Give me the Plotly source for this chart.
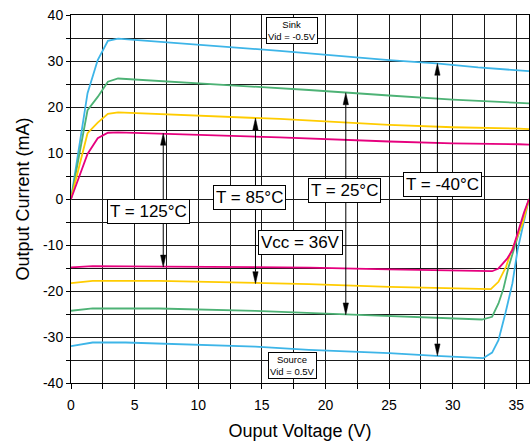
import plotly.graph_objects as go

# ---- Sink curves (Vid = -0.5 V): output voltage (V) vs output current (mA)
sink_m40_v = [0, 0.7, 1.3, 2.1, 2.9, 3.7, 10, 16.4, 25, 28.7, 32, 35.2, 36]
sink_m40_i = [0, 12, 23.0, 30.2, 34.4, 34.85, 33.6, 32.2, 30.2, 29.5, 28.6, 27.9, 27.8]
sink_25_v = [0, 1.3, 2.1, 2.9, 3.7, 10, 18.7, 25, 30, 35.2, 36]
sink_25_i = [0, 19.3, 22.2, 25.5, 26.2, 25.2, 23.7, 22.5, 21.6, 20.9, 20.8]
sink_85_v = [0, 1.3, 2.1, 2.9, 3.7, 10, 16.4, 25, 30, 35.2, 36]
sink_85_i = [0, 14.3, 16.6, 18.5, 18.85, 18.2, 17.4, 16.1, 15.6, 15.3, 15.2]
sink_125_v = [0, 1.3, 2.1, 2.9, 3.7, 7.2, 16.4, 25, 30, 35.2, 36]
sink_125_i = [0, 9.8, 13.2, 14.4, 14.5, 14.2, 13.4, 12.5, 12.1, 11.9, 11.8]

# ---- Source curves (Vid = 0.5 V)
src_m40_v = [0, 1.7, 4.3, 9.5, 14.5, 18.7, 25, 28.7, 32.4, 33.1, 33.6, 34.15, 34.7, 35.1, 36]
src_m40_i = [-32, -31.2, -31.2, -31.7, -32.1, -32.8, -33.5, -34.1, -34.6, -33.4, -30.7, -24.8, -18.3, -11.1, 0]
src_25_v = [0, 1.7, 6.9, 14.5, 21.6, 25, 32.3, 33.1, 33.6, 34.0, 34.4, 34.8, 36]
src_25_i = [-24.3, -23.8, -23.8, -24.3, -25.1, -25.4, -26.2, -25.6, -22.7, -19.4, -14.7, -11.1, 0]
src_85_v = [0, 1.7, 6.9, 14.5, 18.7, 25, 33.0, 33.6, 34.2, 34.55, 35.5, 36]
src_85_i = [-18.3, -17.8, -17.8, -18.3, -18.5, -19.1, -19.6, -18.0, -14.7, -11.8, -5.3, 0]
src_125_v = [0, 1.7, 7.2, 18.7, 25, 33.1, 33.6, 34.3, 34.7, 35.6, 36]
src_125_i = [-14.85, -14.6, -14.7, -14.9, -15.3, -15.7, -15.1, -12.9, -11.1, -3.0, 0]

colors = {"m40": "#3DB5E8", "25": "#4DB275", "85": "#FFCC00", "125": "#E6007E"}

series = [
    (sink_m40_v, sink_m40_i, "m40"), (sink_25_v, sink_25_i, "25"),
    (sink_85_v, sink_85_i, "85"), (sink_125_v, sink_125_i, "125"),
    (src_m40_v, src_m40_i, "m40"), (src_25_v, src_25_i, "25"),
    (src_85_v, src_85_i, "85"), (src_125_v, src_125_i, "125"),
]

# Temperature labels and their double-headed arrows (x, top tip, bottom tip)
temp_labels = ["T = 125°C", "T = 85°C", "T = 25°C", "T = -40°C"]
label_pos = [(6.1, -2.75), (14.0, 0.3), (21.5, 1.85), (29.2, 3.1)]
arrow_x = [7.25, 14.5, 21.6, 28.8]
arrow_top = [14.3, 17.6, 23.1, 29.5]
arrow_bot = [-14.8, -18.4, -25.2, -34.1]

x_ticks = [0, 5, 10, 15, 20, 25, 30, 35]
y_ticks = [-40, -30, -20, -10, 0, 10, 20, 30, 40]

FONT = "Liberation Sans, Arial, sans-serif"

fig = go.Figure()
for v, i, key in series:
    fig.add_trace(go.Scatter(x=v, y=i, mode="lines",
                             line=dict(color=colors[key], width=1.8),
                             hoverinfo="skip", showlegend=False))

shapes = []
head_w = 0.21  # half width of an arrowhead (V)
head_l = 2.6   # length of an arrowhead (mA)
for x, yt, yb in zip(arrow_x, arrow_top, arrow_bot):
    shapes.append(dict(type="line", x0=x, x1=x, y0=yt - head_l, y1=yb + head_l,
                       xref="x", yref="y", line=dict(color="black", width=1)))
    shapes.append(dict(type="path", xref="x", yref="y",
                       path=f"M{x},{yt} L{x - head_w},{yt - head_l} L{x + head_w},{yt - head_l} Z",
                       fillcolor="black", line=dict(color="black", width=0.5)))
    shapes.append(dict(type="path", xref="x", yref="y",
                       path=f"M{x},{yb} L{x - head_w},{yb + head_l} L{x + head_w},{yb + head_l} Z",
                       fillcolor="black", line=dict(color="black", width=0.5)))

annotations = []
for text, (x, y) in zip(temp_labels, label_pos):
    annotations.append(dict(x=x, y=y, xref="x", yref="y", text=text, showarrow=False,
                            font=dict(family=FONT, size=17, color="black"),
                            bgcolor="white", bordercolor="black", borderwidth=1,
                            borderpad=2))
annotations.append(dict(x=18.0, y=-9.5, xref="x", yref="y", text="Vcc = 36V",
                        showarrow=False, font=dict(family=FONT, size=17, color="black"),
                        bgcolor="white", bordercolor="black", borderwidth=1, borderpad=2))
annotations.append(dict(x=17.4, y=36.7, xref="x", yref="y", text="Sink<br>Vid = -0.5V",
                        showarrow=False, font=dict(family=FONT, size=9.5, color="black"),
                        bgcolor="white", bordercolor="black", borderwidth=1, borderpad=1))
annotations.append(dict(x=17.4, y=-36.3, xref="x", yref="y", text="Source<br>Vid = 0.5V",
                        showarrow=False, font=dict(family=FONT, size=9.5, color="black"),
                        bgcolor="white", bordercolor="black", borderwidth=1, borderpad=1))

grid_col = "#1a1a1a"
fig.update_layout(
    width=532, height=445,
    margin=dict(l=71, r=3, t=15, b=62),
    paper_bgcolor="white", plot_bgcolor="white",
    font=dict(family=FONT, color="black"),
    shapes=shapes, annotations=annotations,
    xaxis=dict(range=[0, 36], tickvals=x_ticks, ticktext=[str(t) for t in x_ticks],
               showgrid=True, gridcolor=grid_col, gridwidth=1,
               minor=dict(dtick=2.5, showgrid=True, gridcolor=grid_col, gridwidth=1,
                          ticks="outside", ticklen=5, tickcolor="black"),
               ticks="outside", ticklen=5, tickcolor="black", ticklabelstandoff=4,
               showline=True, linecolor="black", linewidth=1, mirror=True,
               zeroline=False, tickfont=dict(size=14),
               title=dict(text="Ouput Voltage (V)", font=dict(size=18), standoff=12)),
    yaxis=dict(range=[-40, 40], tickvals=y_ticks, ticktext=[str(t) for t in y_ticks],
               showgrid=True, gridcolor=grid_col, gridwidth=1,
               minor=dict(dtick=5, showgrid=True, gridcolor=grid_col, gridwidth=1,
                          ticks="outside", ticklen=4, tickcolor="black"),
               ticks="outside", ticklen=4, tickcolor="black",
               showline=True, linecolor="black", linewidth=1, mirror=True,
               zeroline=False, tickfont=dict(size=14),
               title=dict(text="Output Current (mA)", font=dict(size=18), standoff=8)),
)

fig.write_html("out.html")
